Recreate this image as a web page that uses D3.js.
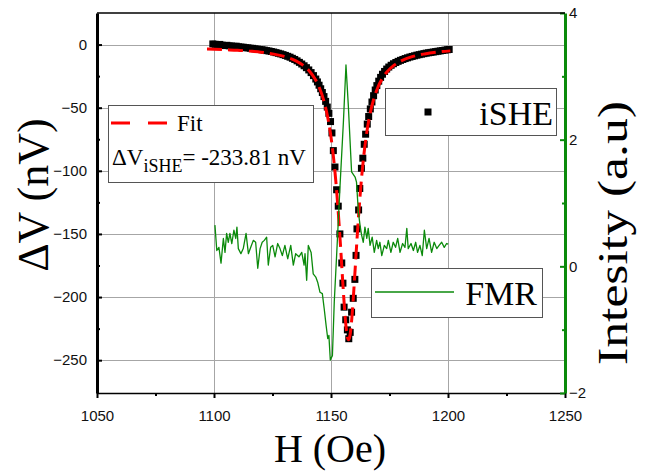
<!DOCTYPE html>
<html>
<head>
<meta charset="utf-8">
<script src="https://cdn.jsdelivr.net/npm/d3@7"></script>
<style>
  html, body { margin: 0; padding: 0; background: #fff; }
  svg { display: block; }
</style>
</head>
<body>
<svg id="chart" width="647" height="472"></svg>
<script>
// ---- iSHE voltage (nV) versus field H (Oe), black squares ----
const isheH = [
  1099.5, 1100.5, 1101.5, 1102.5, 1103.5, 1104.5, 1105.5, 1106.5, 1107.5, 1108.5,
  1109.5, 1110.5, 1111.5, 1112.5, 1113.5, 1114.5, 1115.5, 1116.5, 1117.5, 1118.5,
  1119.5, 1120.5, 1121.5, 1122.5, 1123.5, 1124.5, 1125.5, 1126.5, 1127.5, 1128.5,
  1129.5, 1130.5, 1131.5, 1132.5, 1133.5, 1134.5, 1135.5, 1136.5, 1137.5, 1138.5,
  1139.5, 1140.5, 1141.5, 1142.5, 1143.5, 1144.2, 1144.9, 1145.6, 1146.3, 1147.0,
  1147.7, 1148.4, 1149.1, 1149.8, 1150.4, 1151.0, 1151.7, 1152.4, 1153.1, 1153.8,
  1154.6, 1155.1, 1155.6, 1156.3, 1157.0, 1157.6, 1158.2, 1158.8, 1159.5, 1160.2,
  1160.7, 1161.1, 1161.8, 1162.3, 1163.0, 1163.6, 1164.2, 1164.8, 1165.5, 1166.1,
  1166.8, 1167.5, 1168.2, 1168.9, 1169.6, 1170.4, 1171.2, 1172.0, 1172.9, 1173.8,
  1174.7, 1175.7, 1176.7, 1177.7, 1178.7, 1179.7, 1180.7, 1181.7, 1182.7, 1183.7,
  1184.7, 1185.7, 1186.7, 1187.7, 1188.7, 1189.7, 1190.7, 1191.7, 1192.7, 1193.7,
  1194.7, 1195.7, 1196.7, 1197.7, 1198.7, 1199.7, 1200.5
];
const isheV = [
  0.5, 0.2, -0.3, 0.1, -0.5, -0.8, -0.6, -1.0, -1.2, -1.4,
  -1.3, -1.8, -2.0, -2.1, -2.5, -2.6, -2.9, -3.0, -3.4, -3.6,
  -3.9, -4.1, -4.4, -4.8, -5.1, -5.5, -5.9, -6.4, -6.9, -7.4,
  -8.0, -8.6, -9.3, -10.0, -10.9, -11.8, -12.9, -14.1, -15.4, -16.8,
  -18.3, -20.1, -22.2, -24.6, -27.3, -29.6, -32.2, -35.0, -38.0, -41.2,
  -45.0, -49.5, -54.5, -61.0, -70.0, -84.0, -97.0, -115.0, -128.0, -150.0,
  -173.0, -189.0, -208.0, -218.0, -226.0, -233.0, -228.0, -212.0, -201.0, -186.0,
  -167.0, -146.0, -131.0, -114.0, -98.0, -90.0, -79.0, -71.0, -63.0, -57.0,
  -51.0, -45.5, -40.5, -36.0, -32.5, -29.0, -26.0, -23.5, -21.3, -19.4,
  -17.8, -16.4, -15.2, -14.2, -13.3, -12.5, -11.8, -11.1, -10.5, -9.9,
  -9.4, -8.9, -8.4, -8.0, -7.6, -7.2, -6.8, -6.5, -6.2, -5.9,
  -5.6, -5.3, -5.0, -4.7, -4.4, -4.1, -3.9
];

// ---- Lorentzian fit curve (red dashes) ----
const fitPeak = -233.81;
const fitH = [
  1097, 1100, 1105, 1110, 1115, 1120, 1125, 1130, 1135, 1138,
  1141, 1143, 1145, 1147, 1148, 1149, 1150, 1151, 1152, 1153,
  1154, 1155, 1156, 1156.5, 1157, 1157.5, 1158, 1158.5, 1159, 1160,
  1161, 1162, 1163, 1164, 1165, 1166, 1167, 1168, 1170, 1172,
  1174, 1177, 1180, 1185, 1190, 1195, 1201
];
const fitV = [
  -3.6, -3.7, -4.1, -4.5, -5.2, -6.0, -7.4, -9.4, -12.9, -16.3,
  -21.5, -26.7, -34.0, -44.9, -52.3, -61.6, -73.3, -88.2, -106.9, -130.1,
  -157.5, -187.4, -214.6, -224.9, -231.5, fitPeak, -231.5, -224.9, -214.6, -187.4,
  -157.5, -130.1, -106.9, -88.2, -73.3, -61.6, -52.3, -44.9, -34.0, -26.7,
  -21.5, -16.3, -12.9, -9.4, -7.4, -6.0, -5.0
];

// ---- FMR absorption derivative (a.u.), green line on right axis ----
const fmrH = [
  1100.4, 1101.2, 1102.1, 1103.0, 1104.0, 1104.7, 1105.4, 1106.1, 1106.8, 1107.6,
  1108.5, 1109.3, 1109.8, 1110.4, 1111.5, 1112.5, 1113.7, 1114.7, 1115.7, 1116.8,
  1117.8, 1118.7, 1119.7, 1120.6, 1121.5, 1122.5, 1123.2, 1124.2, 1125.1, 1126.1,
  1127.2, 1128.2, 1129.2, 1130.3, 1131.5, 1132.8, 1133.9, 1134.9, 1136.3, 1137.5,
  1138.5, 1138.9, 1139.6, 1140.3, 1141.5, 1142.4, 1143.5, 1144.3, 1145.3, 1146.3,
  1147.1, 1147.9, 1148.6, 1149.1, 1149.7, 1150.6, 1151.4, 1152.4, 1153.8, 1155.3,
  1156.4, 1157.4, 1158.8, 1160.3, 1160.9, 1161.7, 1162.4, 1163.1, 1163.8, 1164.5,
  1165.3, 1165.9, 1166.7, 1167.6, 1168.5, 1169.5, 1170.2, 1170.9, 1171.7, 1172.8,
  1173.8, 1174.5, 1175.6, 1176.6, 1177.6, 1178.5, 1179.5, 1180.6, 1181.6, 1182.4,
  1183.0, 1184.2, 1185.2, 1186.2, 1187.0, 1188.0, 1189.0, 1189.9, 1190.9, 1191.9,
  1193.0, 1194.1, 1195.2, 1196.2, 1197.3, 1198.4, 1199.4, 1200.1
];
const fmrI = [
  0.65, 0.25, 0.30, 0.05, 0.44, 0.22, 0.52, 0.38, 0.52, 0.36,
  0.57, 0.44, 0.62, 0.28, 0.20, 0.28, 0.52, 0.20, 0.30, 0.41,
  0.38, -0.03, 0.28, 0.38, 0.41, 0.46, 0.02, 0.30, 0.33, 0.15,
  0.36, 0.28, 0.17, 0.33, 0.12, 0.33, 0.02, 0.20, 0.15, 0.22,
  0.02, 0.20, -0.22, 0.33, 0.22, -0.12, -0.17, -0.25, -0.41, -0.43,
  -0.67, -0.93, -1.14, -1.09, -1.48, -1.41, -0.56, 0.17, 1.23, 2.28,
  3.18, 2.54, 1.49, 1.41, 1.33, 0.86, 0.65, 0.49, 0.38, 0.62,
  0.44, 0.60, 0.33, 0.46, 0.22, 0.41, 0.28, 0.38, 0.17, 0.33,
  0.28, 0.41, 0.22, 0.38, 0.30, 0.44, 0.22, 0.36, 0.30, 0.60,
  0.28, 0.36, 0.25, 0.38, 0.22, 0.33, 0.17, 0.57, 0.28, 0.44,
  0.22, 0.38, 0.28, 0.33, 0.38, 0.30, 0.36, 0.35
];

// ---- axes ticks ----
const xTicks = [1050, 1100, 1150, 1200, 1250];
const xMinorTicks = [1075, 1125, 1175, 1225];
const yTicks = [-250, -200, -150, -100, -50, 0];
const yMinorTicks = [-225, -175, -125, -75, -25];
const y2Ticks = [-2, 0, 2, 4];
const y2MinorTicks = [-1, 1, 3];

const SERIF = "'Liberation Serif', 'Times New Roman', serif";
const SANS = "'Liberation Sans', Arial, sans-serif";
const GREEN = "#0b8a0b";

const svg = d3.select("#chart");
const plot = { left: 97, right: 565, top: 13, bottom: 393 };

const x = d3.scaleLinear().domain([1050, 1250]).range([plot.left, plot.right]);
const y = d3.scaleLinear().domain([-276, 25]).range([plot.bottom, plot.top]);
const y2 = d3.scaleLinear().domain([-2, 4]).range([plot.bottom, plot.top]);

svg.append("rect").attr("width", 647).attr("height", 472).attr("fill", "#fff");

// grid
const grid = svg.append("g").attr("stroke", "#a6a6a6").attr("stroke-width", 1);
grid.selectAll("line.gx").data(xTicks.slice(1, -1)).join("line")
  .attr("x1", d => Math.round(x(d)) + 0.5).attr("x2", d => Math.round(x(d)) + 0.5)
  .attr("y1", plot.top).attr("y2", plot.bottom);
grid.selectAll("line.gy").data(yTicks).join("line")
  .attr("x1", plot.left).attr("x2", plot.right)
  .attr("y1", d => Math.round(y(d)) + 0.5).attr("y2", d => Math.round(y(d)) + 0.5);

// iSHE squares
const sq = 7;
svg.append("g").selectAll("rect").data(isheH.map((h, i) => [h, isheV[i]])).join("rect")
  .attr("x", d => x(d[0]) - sq / 2).attr("y", d => y(d[1]) - sq / 2)
  .attr("width", sq).attr("height", sq).attr("fill", "#000");

// fit curve
const fitLine = d3.line().x(d => x(d[0])).y(d => y(d[1])).curve(d3.curveMonotoneX);
svg.append("path").datum(fitH.map((h, i) => [h, fitV[i]]))
  .attr("d", fitLine).attr("fill", "none").attr("stroke", "#ff0000")
  .attr("stroke-width", 3).attr("stroke-dasharray", "15,6");

// FMR line
const fmrLine = d3.line().x(d => x(d[0])).y(d => y2(d[1]));
svg.append("path").datum(fmrH.map((h, i) => [h, fmrI[i]]))
  .attr("d", fmrLine).attr("fill", "none").attr("stroke", GREEN)
  .attr("stroke-width", 1.3).attr("stroke-linejoin", "round");

// bottom axis
const gx = svg.append("g").attr("transform", `translate(0,${plot.bottom})`)
  .call(d3.axisBottom(x).tickValues(xTicks).tickSizeInner(5).tickSizeOuter(0).tickPadding(12).tickFormat(d3.format("d")));
svg.append("g").attr("transform", `translate(0,${plot.bottom})`)
  .call(d3.axisBottom(x).tickValues(xMinorTicks).tickSizeInner(3).tickSizeOuter(0).tickFormat(""))
  .call(g => g.select(".domain").remove());

// left axis
const gy = svg.append("g").attr("transform", `translate(${plot.left},0)`)
  .call(d3.axisLeft(y).tickValues(yTicks).tickSizeInner(-5).tickSizeOuter(0).tickPadding(10).tickFormat(d3.format("d")));
svg.append("g").attr("transform", `translate(${plot.left},0)`)
  .call(d3.axisLeft(y).tickValues(yMinorTicks).tickSizeInner(-3).tickSizeOuter(0).tickFormat(""))
  .call(g => g.select(".domain").remove());

// right axis (green)
const gy2 = svg.append("g").attr("transform", `translate(${plot.right},0)`)
  .call(d3.axisRight(y2).tickValues(y2Ticks).tickSizeInner(-5).tickSizeOuter(0).tickPadding(4).tickFormat(d3.format("d")));
const gy2m = svg.append("g").attr("transform", `translate(${plot.right},0)`)
  .call(d3.axisRight(y2).tickValues(y2MinorTicks).tickSizeInner(-3).tickSizeOuter(0).tickFormat(""))
  .call(g => g.select(".domain").remove());

svg.selectAll(".tick text").attr("font-family", SANS).attr("font-size", 15).attr("fill", "#111");
svg.selectAll(".tick line").attr("stroke-width", 2);
gx.select(".domain").attr("stroke", "#000").attr("stroke-width", 1.5);
gy.select(".domain").attr("stroke", "#000").attr("stroke-width", 3);
gy2.select(".domain").attr("stroke", GREEN).attr("stroke-width", 3);
gy2.selectAll(".tick line").attr("stroke", GREEN);
gy2m.selectAll(".tick line").attr("stroke", GREEN);

// top frame line
svg.append("line").attr("x1", plot.left).attr("x2", plot.right)
  .attr("y1", plot.top).attr("y2", plot.top).attr("stroke", "#000").attr("stroke-width", 1.5);

// axis titles
svg.append("text").attr("transform", "translate(48,195) rotate(-90)")
  .attr("text-anchor", "middle").attr("font-family", SERIF).attr("font-size", 44)
  .text("\u0394V (nV)");
svg.append("text").attr("x", 330).attr("y", 462)
  .attr("text-anchor", "middle").attr("font-family", SERIF).attr("font-size", 40)
  .text("H (Oe)");
svg.append("text").attr("transform", "translate(627,233) rotate(-90)")
  .attr("text-anchor", "middle").attr("font-family", SERIF).attr("font-size", 43)
  .attr("textLength", 264).attr("lengthAdjust", "spacingAndGlyphs")
  .text("Intesity (a.u)");

// legend: fit
const boxStyle = sel => sel.attr("fill", "#fff").attr("stroke", "#555").attr("stroke-width", 1);
svg.append("rect").attr("x", 108.5).attr("y", 105.5).attr("width", 205).attr("height", 77).call(boxStyle);
svg.append("line").attr("x1", 111).attr("x2", 167).attr("y1", 123).attr("y2", 123)
  .attr("stroke", "#ff0000").attr("stroke-width", 3).attr("stroke-dasharray", "19,18");
svg.append("text").attr("x", 177).attr("y", 131).attr("font-family", SERIF).attr("font-size", 23).text("Fit");
const dv = svg.append("text").attr("x", 112).attr("y", 165).attr("font-family", SERIF).attr("font-size", 23);
dv.append("tspan").text("\u0394V");
dv.append("tspan").attr("dy", 7).attr("font-size", 18).text("iSHE");
dv.append("tspan").attr("dy", -7).text("= " + fitPeak.toFixed(2) + " nV");

// legend: iSHE
svg.append("rect").attr("x", 385.5).attr("y", 88.5).attr("width", 171).attr("height", 47).call(boxStyle);
svg.append("rect").attr("x", 428 - sq / 2).attr("y", 112 - sq / 2).attr("width", sq).attr("height", sq).attr("fill", "#000");
svg.append("text").attr("x", 553).attr("y", 125).attr("text-anchor", "end")
  .attr("font-family", SERIF).attr("font-size", 34).text("iSHE");

// legend: FMR
svg.append("rect").attr("x", 371.5).attr("y", 268.5).attr("width", 171).attr("height", 49).call(boxStyle);
svg.append("line").attr("x1", 375).attr("x2", 454).attr("y1", 292).attr("y2", 292)
  .attr("stroke", GREEN).attr("stroke-width", 1.3);
svg.append("text").attr("x", 537).attr("y", 305).attr("text-anchor", "end")
  .attr("font-family", SERIF).attr("font-size", 34).text("FMR");
</script>
</body>
</html>
